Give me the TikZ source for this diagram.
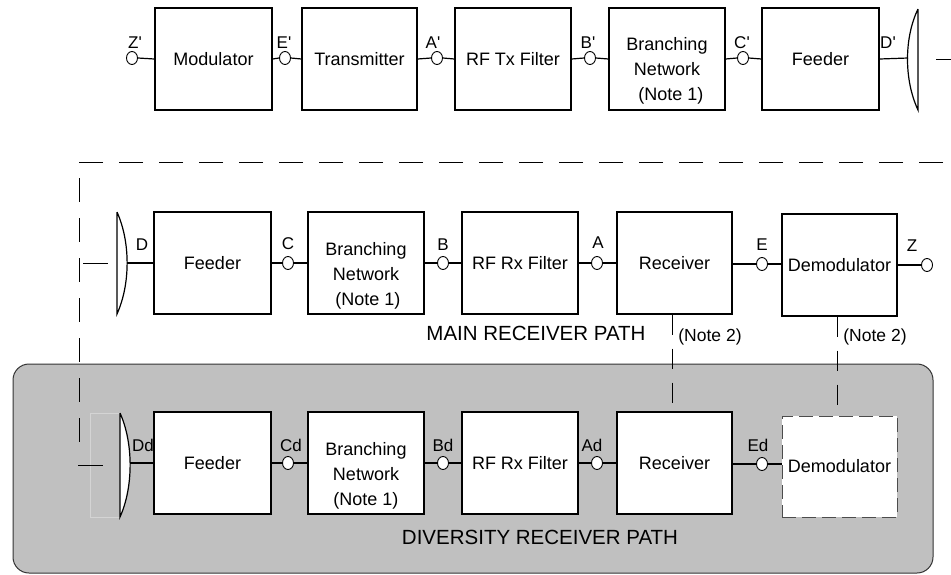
\documentclass[tikz,border=0pt]{standalone}
\usepackage{fontspec}
\setmainfont{Liberation Sans}[Ligatures=TeXOff]
\usetikzlibrary{shapes.geometric}
\definecolor{panelgray}{HTML}{C0C0C0}
\definecolor{faintgray}{HTML}{D4D4D4}
\begin{document}
\begin{tikzpicture}[x=1pt,y=-1pt,
  blk/.style={draw, line width=1.2pt, fill=white, minimum height=102pt, inner sep=0pt,
              font=\fontsize{18}{25}\selectfont},
  dblk/.style={blk, draw=black!70, line width=1pt, dash pattern=on 14pt off 6pt},
  txt/.style={inner sep=0pt, align=center, font=\fontsize{18}{25}\selectfont},
  port/.style={ellipse, draw, fill=white, line width=0.9pt, minimum width=11pt, minimum height=13pt, inner sep=0pt},
  plbl/.style={inner sep=0pt, font=\fontsize{17}{20}\selectfont},
  nlbl/.style={inner sep=0pt, font=\fontsize{17.5}{20}\selectfont},
  pathlbl/.style={inner sep=0pt, font=\fontsize{20.5}{24}\selectfont},
  wire/.style={line width=1.2pt},
  radio/.style={line width=0.9pt},
  longdash/.style={line width=0.9pt, dash pattern=on 24pt off 16pt},
  notedash/.style={line width=0.9pt, dash pattern=on 20pt off 14pt},
  ant/.style={line width=1.2pt, fill=white}
]
\useasboundingbox (0,0) rectangle (951,574);

% ---------- diversity panel background ----------
\node[draw=black!80, line width=1pt, fill=panelgray, rounded corners=16pt,
      minimum width=920pt, minimum height=209pt, inner sep=0pt] (panel) at (473,468.5) {};

% ---------- row 1 : transmitter ----------
\node[blk, minimum width=117pt] (mod)  at (213.5,59) {Modulator};
\node[blk, minimum width=115pt] (tx)   at (359.5,59) {Transmitter};
\node[blk, minimum width=116pt] (rftx) at (513,59)   {RF Tx Filter};
\node[blk, minimum width=116pt] (br1)  at (667,59)   {};
\node[txt] (br1t) at (667,71) {Branching\\Network\\\hspace*{8pt}(Note 1)};
\node[blk, minimum width=117pt] (fd1)  at (820.5,59) {Feeder};

\node[port] (pZ1) at (132,58) {};
\node[port] (pE1) at (285,58) {};
\node[port] (pA1) at (437,58) {};
\node[port] (pB1) at (590,58) {};
\node[port] (pC1) at (743,58) {};

\node[plbl] (lZ1) at (135,43) {Z'};
\node[plbl] (lE1) at (284,43) {E'};
\node[plbl] (lA1) at (433,43) {A'};
\node[plbl] (lB1) at (588,43) {B'};
\node[plbl] (lC1) at (742,43) {C'};
\node[plbl] (lD1) at (888,43) {D'};

\draw[wire] (pZ1.east) -- (mod.west);
\draw[wire] (mod.east) -- (pE1.west);
\draw[wire] (pE1.east) -- (tx.west);
\draw[wire] (tx.east) -- (pA1.west);
\draw[wire] (pA1.east) -- (rftx.west);
\draw[wire] (rftx.east) -- (pB1.west);
\draw[wire] (pB1.east) -- (br1.west);
\draw[wire] (br1.east) -- (pC1.west);
\draw[wire] (pC1.east) -- (fd1.west);

% transmit antenna
\coordinate (ant1) at (908,58);
\draw[ant] (918,9) -- (918,110) .. controls (904,80) and (904,38) .. (918,9);
\draw[wire] (fd1.east) -- (ant1);
\coordinate (rad1a) at (936,59);
\coordinate (rad1b) at (951,59);
\draw[radio] (rad1a) -- (rad1b);

% ---------- row 2 : main receiver ----------
\node[blk, minimum width=117pt] (fd2) at (212.5,263) {Feeder};
\node[blk, minimum width=116pt] (br2) at (366,263)   {};
\node[txt] (br2t) at (366,276) {Branching\\Network\\\hspace*{4pt}(Note 1)};
\node[blk, minimum width=116pt] (rf2) at (520,263)   {RF Rx Filter};
\node[blk, minimum width=115pt] (rx2) at (674.5,263) {Receiver};
\node[blk, minimum width=115pt] (dm2) at (839.5,265) {Demodulator};

\node[port] (pC2) at (288,263) {};
\node[port] (pB2) at (443,263) {};
\node[port] (pA2) at (597,263) {};
\node[port] (pE2) at (762,264) {};
\node[port] (pZ2) at (927,265) {};

\node[plbl] (lD2) at (142,245) {D};
\node[plbl] (lC2) at (288,244) {C};
\node[plbl] (lB2) at (443,245) {B};
\node[plbl] (lA2) at (598,243) {A};
\node[plbl] (lE2) at (762,245) {E};
\node[plbl] (lZ2) at (912,246) {Z};

\coordinate (ant2) at (127,263);
\draw[ant] (117,212) -- (117,314) .. controls (130.5,284) and (130.5,242) .. (117,212);
\draw[wire] (ant2) -- (fd2.west);
\draw[wire] (fd2.east) -- (pC2.west);
\draw[wire] (pC2.east) -- (br2.west);
\draw[wire] (br2.east) -- (pB2.west);
\draw[wire] (pB2.east) -- (rf2.west);
\draw[wire] (rf2.east) -- (pA2.west);
\draw[wire] (pA2.east) -- (rx2.west);
\draw[wire] (rx2.east |- pE2) -- (pE2.west);
\draw[wire] (pE2.east) -- (dm2.west |- pE2);
\draw[wire] (dm2.east) -- (pZ2.west);

\coordinate (rad2a) at (83,263);
\coordinate (rad2b) at (108,263);
\draw[radio] (rad2a) -- (rad2b);

\node[pathlbl] (mainlbl) at (536,333) {MAIN RECEIVER PATH};
\node[nlbl] (n2a) at (710,337) {(Note 2)};
\node[nlbl] (n2b) at (875,337) {(Note 2)};

% long dashed frame
\coordinate (dtr) at (943,162);
\coordinate (dtl) at (79,162);
\coordinate (dbl) at (79,448);
\draw[longdash] (dtr) -- (dtl) -- (dbl);

% ---------- row 3 : diversity receiver ----------
\draw[faintgray, line width=0.8pt] (90,413) rectangle (120,517);
\coordinate (ant3) at (130,463);
\draw[ant] (120,413) -- (120,517) .. controls (133.5,487) and (133.5,443) .. (120,413);
\coordinate (rad3a) at (78,465);
\coordinate (rad3b) at (103,465);
\draw[radio] (rad3a) -- (rad3b);

\node[blk, minimum width=117pt] (fd3) at (212.5,463) {Feeder};
\node[blk, minimum width=116pt] (br3) at (366,463)   {};
\node[txt] (br3t) at (366,476) {Branching\\Network\\(Note 1)};
\node[blk, minimum width=116pt] (rf3) at (520,463)   {RF Rx Filter};
\node[blk, minimum width=115pt] (rx3) at (674.5,463) {Receiver};
\node[dblk, minimum width=115pt, minimum height=101pt] (dm3) at (839.5,466.5) {Demodulator};

\node[port] (pC3) at (288,463) {};
\node[port] (pB3) at (443,463) {};
\node[port] (pA3) at (597,463) {};
\node[port] (pE3) at (762,464) {};

\node[plbl] (lD3) at (143,445) {Dd};
\node[plbl] (lC3) at (291,445) {Cd};
\node[plbl] (lB3) at (443,445) {Bd};
\node[plbl] (lA3) at (592,445) {Ad};
\node[plbl] (lE3) at (758,445) {Ed};

\draw[wire] (ant3) -- (fd3.west);
\draw[wire] (fd3.east) -- (pC3.west);
\draw[wire] (pC3.east) -- (br3.west);
\draw[wire] (br3.east) -- (pB3.west);
\draw[wire] (pB3.east) -- (rf3.west);
\draw[wire] (rf3.east) -- (pA3.west);
\draw[wire] (pA3.east) -- (rx3.west);
\draw[wire] (rx3.east |- pE3) -- (pE3.west);
\draw[wire] (pE3.east) -- (dm3.west |- pE3);

\node[pathlbl] (divlbl) at (540,537) {DIVERSITY RECEIVER PATH};

% note 2 links
\draw[notedash] ([xshift=-2.5pt]rx2.south) -- ([xshift=-2.5pt]rx3.north);
\draw[notedash] ([xshift=-2.5pt]dm2.south) -- ([xshift=-2.5pt]dm3.north);
\end{tikzpicture}
\end{document}
